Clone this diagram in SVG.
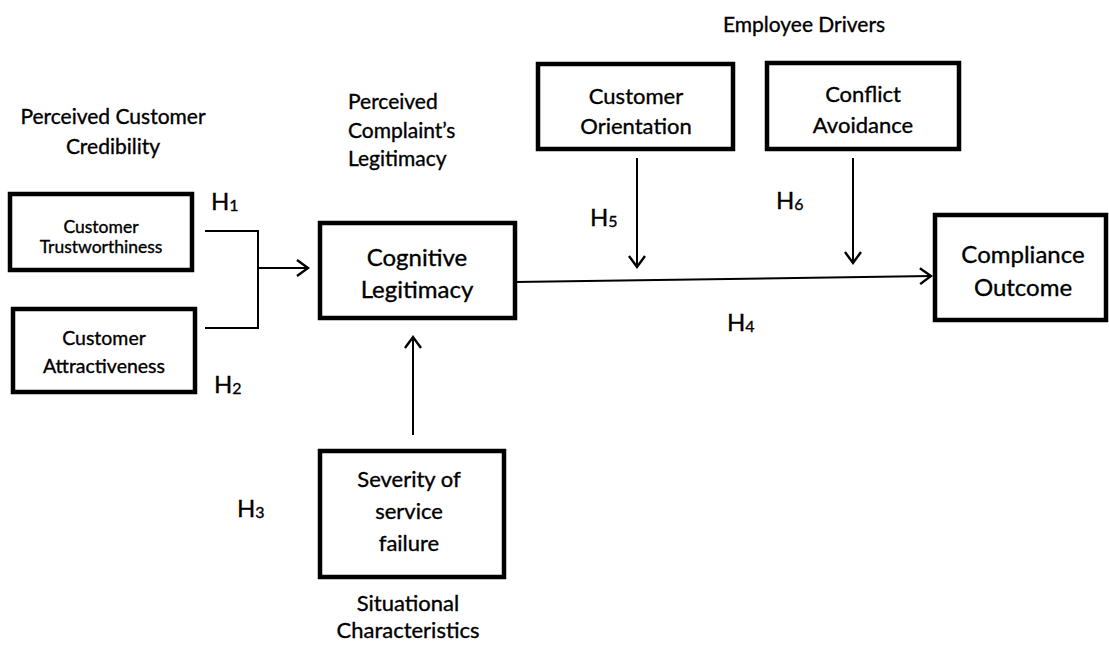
<svg xmlns="http://www.w3.org/2000/svg" width="1109" height="646" viewBox="0 0 1109 646">
<defs>
<style>
.box{fill:#fff;stroke:#000;stroke-width:4.5}
.t{font-family:Lato,"Liberation Sans",sans-serif;fill:#000;stroke:#000;stroke-width:0.35;text-anchor:middle;dominant-baseline:central}
.lbl{font-family:Lato,"Liberation Sans",sans-serif;fill:#000;stroke:#000;stroke-width:0.35;dominant-baseline:central}
.h{font-family:Lato,"Liberation Sans",sans-serif;fill:#000;stroke:#000;stroke-width:0.35;font-size:24px;dominant-baseline:central}
.ln{fill:none;stroke:#000;stroke-width:2}
</style>
<marker id="chev" markerUnits="userSpaceOnUse" markerWidth="16" markerHeight="20" refX="13" refY="9" orient="auto" viewBox="0 0 16 20">
<path d="M2,1 L13,9 L2,17" fill="none" stroke="#000" stroke-width="2.4"/>
</marker>
</defs>
<rect width="1109" height="646" fill="#fff"/>

<g id="title-labels">
<text class="t" x="804" y="23" font-size="21">Employee Drivers</text>
<text class="t" x="113" y="115" font-size="21">Perceived Customer</text>
<text class="t" x="113" y="145" font-size="21">Credibility</text>
<text class="lbl" x="348" y="100" font-size="21">Perceived</text>
<text class="lbl" x="348" y="129" font-size="21">Complaint’s</text>
<text class="lbl" x="348" y="157" font-size="21">Legitimacy</text>
<text class="t" x="408" y="602" font-size="22">Situational</text>
<text class="t" x="408" y="629" font-size="22">Characteristics</text>
</g>

<g id="node-trust">
<rect class="box" x="10" y="194" width="182" height="76"/>
<text class="t" x="101" y="226" font-size="17.5">Customer</text>
<text class="t" x="101" y="246" font-size="17.5">Trustworthiness</text>
</g>
<g id="node-attract">
<rect class="box" x="13" y="309" width="182" height="83"/>
<text class="t" x="104" y="337" font-size="19.5">Customer</text>
<text class="t" x="104" y="365" font-size="19.5">Attractiveness</text>
</g>
<g id="node-cognitive">
<rect class="box" x="320" y="223" width="195" height="95"/>
<text class="t" x="417" y="256" font-size="24">Cognitive</text>
<text class="t" x="417" y="288" font-size="24">Legitimacy</text>
</g>
<g id="node-orientation">
<rect class="box" x="538" y="64" width="195" height="85"/>
<text class="t" x="636" y="95" font-size="22">Customer</text>
<text class="t" x="636" y="125" font-size="22">Orientation</text>
</g>
<g id="node-conflict">
<rect class="box" x="767" y="63" width="192" height="86"/>
<text class="t" x="863" y="93" font-size="22">Conflict</text>
<text class="t" x="863" y="124" font-size="22">Avoidance</text>
</g>
<g id="node-compliance">
<rect class="box" x="935" y="215" width="171" height="105"/>
<text class="t" x="1023" y="253" font-size="24">Compliance</text>
<text class="t" x="1023" y="286" font-size="24">Outcome</text>
</g>
<g id="node-severity">
<rect class="box" x="320" y="451" width="184" height="126"/>
<text class="t" x="409" y="478" font-size="22">Severity of</text>
<text class="t" x="409" y="510" font-size="22">service</text>
<text class="t" x="409" y="542" font-size="22">failure</text>
</g>

<g id="connectors">
<polyline class="ln" points="205,231 258,231 258,328 205,328"/>
<line class="ln" x1="258" y1="268" x2="308" y2="268" marker-end="url(#chev)"/>
<line class="ln" x1="515" y1="282" x2="931" y2="276" marker-end="url(#chev)"/>
<line class="ln" x1="637" y1="158" x2="637" y2="267" marker-end="url(#chev)"/>
<line class="ln" x1="853" y1="158" x2="853" y2="263" marker-end="url(#chev)"/>
<line class="ln" x1="413" y1="435" x2="413" y2="337" marker-end="url(#chev)"/>
</g>

<g id="hyp-labels">
<text class="h" x="211" y="200">H<tspan font-size="16" dy="4">1</tspan></text>
<text class="h" x="214" y="383">H<tspan font-size="16" dy="4">2</tspan></text>
<text class="h" x="237" y="507">H<tspan font-size="16" dy="4">3</tspan></text>
<text class="h" x="727" y="321">H<tspan font-size="16" dy="4">4</tspan></text>
<text class="h" x="590" y="216">H<tspan font-size="16" dy="4">5</tspan></text>
<text class="h" x="776" y="199">H<tspan font-size="16" dy="4">6</tspan></text>
</g>
</svg>
